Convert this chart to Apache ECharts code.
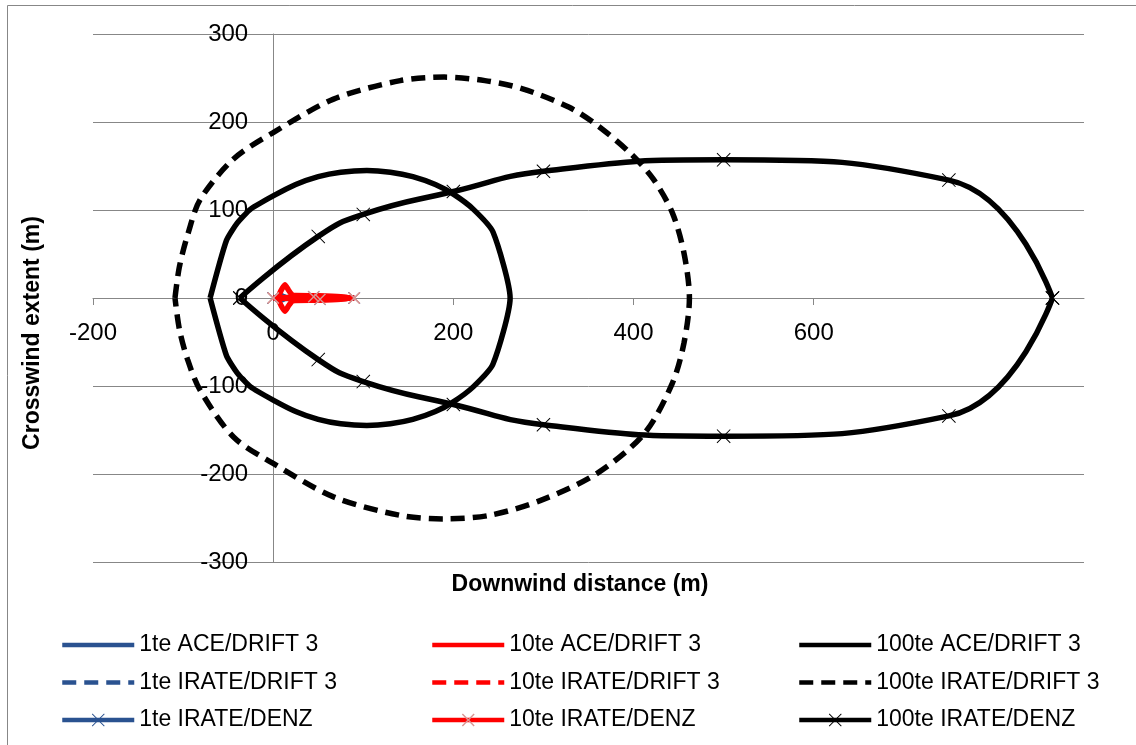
<!DOCTYPE html>
<html>
<head>
<meta charset="utf-8">
<script src="https://cdn.jsdelivr.net/npm/echarts@6/dist/echarts.min.js"></script>
<style>
html,body{margin:0;padding:0;background:#fff;}
#chart{width:1136px;height:745px;}
</style>
</head>
<body>
<div id="chart"></div>
<script>
// ---- data ----
const seriesNames = [
  '1te ACE/DRIFT 3', '10te ACE/DRIFT 3', '100te ACE/DRIFT 3',
  '1te IRATE/DRIFT 3', '10te IRATE/DRIFT 3', '100te IRATE/DRIFT 3',
  '1te IRATE/DENZ', '10te IRATE/DENZ', '100te IRATE/DENZ'
];
const xTicks = [-200, 0, 200, 400, 600, 800];
const yTicks = [-300, -200, -100, 0, 100, 200, 300];

// 1te (hidden under the 10te plumes)
const ace1 = [[2,0],[5,2],[10,2],[14,0],[10,-2],[5,-2],[2,0]];
const irate1 = [[3,0],[8,3],[15,0],[8,-3],[3,0]];
const denz1Upper = [[0,0],[45,1.5],[90,0]];
const denz1Lower = [[0,0],[52,-1.5],[90,0]];

// 10te
const ace10 = [[5,0],[9,9],[13,15],[17,9],[22,3],[50,2.5],[75,1.5],[86,0],
               [75,-1.5],[50,-2.5],[22,-3],[17,-9],[13,-15],[9,-9],[5,0]];
const irate10 = [[20,0],[35,2],[60,1.5],[75,0],[60,-1.5],[35,-2],[20,0]];
const denz10Upper = [[0,0],[45,1.5],[90,0]];
const denz10Lower = [[0,0],[52,-1.5],[90,0]];

// 100te
const ace100 = [[-70,0],[-52,65],[-40,85],[-25,101],[0,116],[25,129],[50,138],[75,143],[104,145],
                [130,143],[155,138],[180,129],[200,118],[222,101],[244,75],[263,0],
                [244,-75],[222,-101],[200,-118],[180,-129],[155,-138],[130,-143],[104,-145],
                [75,-143],[50,-138],[25,-129],[0,-116],[-25,-101],[-40,-85],[-52,-65],[-70,0]];
const irate100 = [[-109,0],[-104,36],[-94,75],[-81,112],[-44,158],[0,188],[67,226],[141,247],[190,251],
                  [235,247],[276,238],[328,217],[360,196],[396,165],[422,135],[443,97],[456,51],[462,0],
                  [456,-51],[443,-97],[412,-154],[360,-199],[297,-230],[240,-247],[190,-251],[141,-247],
                  [67,-226],[0,-188],[-44,-158],[-81,-105],[-95,-70],[-104,-36],[-109,0]];
const denz100Upper = [[-37,0],[50,70],[100,95],[200,121],[300,144],[500,157],[750,134],[865,0]];
const denz100Lower = [[-37,0],[50,-70],[100,-95],[200,-121],[300,-144],[500,-157],[750,-134],[865,0]];

// ---- styling ----
const FONT = 'Liberation Sans, Arial, sans-serif';
const GRAY = '#878787';
const BLUE = '#2A5290';
const RED = '#FF0000';
const PINK = '#D99694';
const BLACK = '#000000';
const LW = 5.5;
const LEGEND_LW = 4.5;
const DASH = [14, 8];
const X_THIN = 'path://M0,1L1,0L10,9L19,0L20,1L11,10L20,19L19,20L10,11L1,20L0,19L9,10Z';
const X_THICK = 'path://M0,1.6L1.6,0L10,8.4L18.4,0L20,1.6L11.6,10L20,18.4L18.4,20L10,11.6L1.6,20L0,18.4L8.4,10Z';

const GRID = { left: 93, right: 52, top: 34, bottom: 183 };
const CW = 1136, CH = 745;

const BREAK = ['-', '-'];
function withBreak(a, b) { return a.concat([BREAK], b); }

function mk(name, data, color, opts) {
  opts = opts || {};
  return {
    name: name,
    type: 'line',
    data: data,
    z: opts.z != null ? opts.z : 2,
    smooth: opts.smooth || false,
    connectNulls: false,
    showSymbol: !!opts.symbol,
    symbol: opts.symbol || 'circle',
    symbolSize: opts.symbolSize || 12,
    itemStyle: { color: opts.markerColor || color },
    lineStyle: { color: color, width: LW, type: opts.dash ? DASH : 'solid' },
    emphasis: { disabled: true },
    animation: false
  };
}

const series = [
  mk(seriesNames[0], ace1, BLUE, { z: 1 }),
  mk(seriesNames[1], ace10, RED, { smooth: 0.2 }),
  mk(seriesNames[2], ace100, BLACK, { smooth: 0.2 }),
  mk(seriesNames[3], irate1, BLUE, { dash: true, z: 1 }),
  mk(seriesNames[4], irate10, RED, { dash: true }),
  mk(seriesNames[5], irate100, BLACK, { dash: true, smooth: 0.3 }),
  mk(seriesNames[6], withBreak(denz1Upper, denz1Lower), BLUE, { symbol: X_THIN, symbolSize: 12, z: 1 }),
  mk(seriesNames[7], withBreak(denz10Upper, denz10Lower), RED, { symbol: X_THICK, symbolSize: 12, markerColor: PINK }),
  mk(seriesNames[8], withBreak(denz100Upper, denz100Lower), BLACK, { symbol: X_THIN, symbolSize: 14, smooth: 0.5 })
];

const HIDDEN_SYMBOL = { color: 'rgba(0,0,0,0)', borderColor: 'rgba(0,0,0,0)', borderWidth: 0, opacity: 0 };
function legendItem(i) {
  const hasMarker = i >= 6;
  return hasMarker ? { name: seriesNames[i] } : { name: seriesNames[i], itemStyle: HIDDEN_SYMBOL };
}
function legendCol(left, idx) {
  return {
    orient: 'vertical',
    left: left,
    top: 633,
    padding: 0,
    data: idx.map(legendItem),
    itemWidth: 72,
    itemHeight: 16,
    itemGap: 13.5,
    selectedMode: false,
    lineStyle: { width: LEGEND_LW },
    textStyle: { fontFamily: FONT, fontSize: 23, color: '#000', lineHeight: 24 }
  };
}

// axis offsets so the axes (with their labels) sit on the zero lines, as in the original
const plotW = CW - GRID.left - GRID.right;
const plotH = CH - GRID.top - GRID.bottom;
const xMin = -200, xMax = 900, yMin = -300, yMax = 300;
const yAxisOffset = -plotW * (0 - xMin) / (xMax - xMin);
const xAxisOffset = -plotH * (0 - yMin) / (yMax - yMin);

const chart = echarts.init(document.getElementById('chart'), null, { renderer: 'canvas' });
chart.setOption({
  backgroundColor: '#fff',
  animation: false,
  textStyle: { fontFamily: FONT },
  grid: Object.assign({ containLabel: false }, GRID),
  xAxis: {
    type: 'value',
    min: xMin, max: xMax, interval: 200,
    position: 'bottom',
    offset: xAxisOffset,
    axisLine: { show: true, onZero: false, lineStyle: { color: GRAY, width: 1 } },
    axisTick: { show: true, inside: false, length: 7, customValues: xTicks, lineStyle: { color: GRAY } },
    axisLabel: { show: true, customValues: xTicks, showMaxLabel: false, fontSize: 24, color: '#000', fontFamily: FONT, margin: 23 },
    splitLine: { show: false }
  },
  yAxis: {
    type: 'value',
    min: yMin, max: yMax, interval: 100,
    position: 'left',
    offset: yAxisOffset,
    axisLine: { show: true, onZero: false, lineStyle: { color: GRAY, width: 1 } },
    axisTick: { show: false },
    axisLabel: { show: true, customValues: yTicks, fontSize: 24, color: '#000', fontFamily: FONT, margin: 25 },
    splitLine: { show: true, lineStyle: { color: GRAY, width: 1 } }
  },
  legend: [
    legendCol(60, [0, 3, 6]),
    legendCol(430, [1, 4, 7]),
    legendCol(797, [2, 5, 8])
  ],
  graphic: [
    { type: 'rect', silent: true, z: -10,
      shape: { x: 7.5, y: 5.5, width: 1300, height: 900 },
      style: { fill: 'none', stroke: GRAY, lineWidth: 1 } },
    { type: 'text', silent: true, x: 580, y: 585,
      style: { text: 'Downwind distance (m)', font: 'bold 23px ' + FONT, fill: '#000', textAlign: 'center', textVerticalAlign: 'middle' } },
    { type: 'text', silent: true, x: 33, y: 333, rotation: Math.PI / 2,
      style: { text: 'Crosswind extent (m)', font: 'bold 23px ' + FONT, fill: '#000', textAlign: 'center', textVerticalAlign: 'middle' } }
  ],
  series: series
});
</script>
</body>
</html>
